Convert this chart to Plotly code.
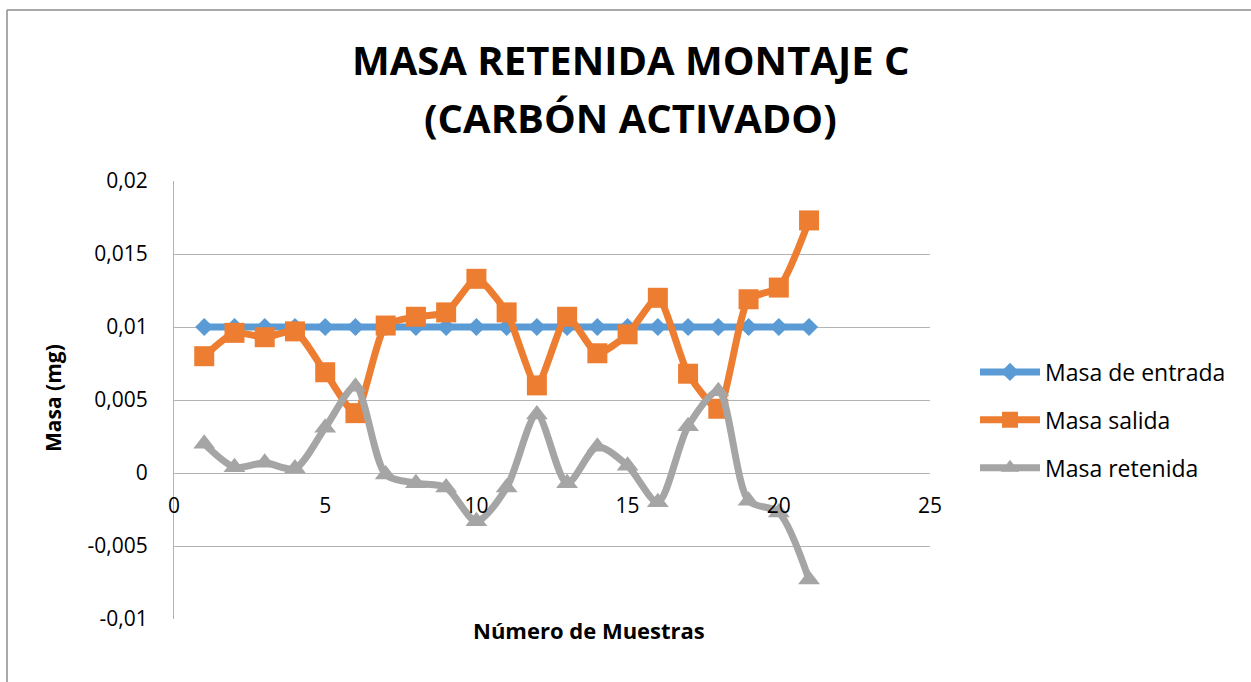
import plotly.graph_objects as go

# Sample numbers
muestras = list(range(1, 22))

# Mass per sample (mg)
masa_entrada = [0.01] * 21
masa_salida = [0.0080, 0.0096, 0.0093, 0.0097, 0.0069, 0.0041, 0.0101, 0.0107,
               0.0110, 0.0133, 0.0110, 0.0060, 0.0107, 0.0082, 0.0095, 0.0120,
               0.0068, 0.0044, 0.0119, 0.0127, 0.0173]
masa_retenida = [0.0020, 0.0004, 0.0007, 0.0003, 0.0031, 0.0059, -0.0001, -0.0007,
                 -0.0010, -0.0033, -0.0010, 0.0040, -0.0007, 0.0018, 0.0005, -0.0020,
                 0.0032, 0.0056, -0.0019, -0.0027, -0.0073]

y_ticks = [0.02, 0.015, 0.01, 0.005, 0, -0.005, -0.01]
y_tick_text = ["0,02", "0,015", "0,01", "0,005", "0", "-0,005", "-0,01"]
x_ticks = [0, 5, 10, 15, 20, 25]

FONT = "Open Sans"
GRID = "#B3B3B3"

# plot area in pixels: left 174, right 930, top 181, bottom 619
L, R, T, B = 174, 930, 181, 619


def px_x(p):
    return (p - L) / (R - L)


def px_y(p):
    return (B - p) / (B - T)


fig = go.Figure()
fig.add_trace(go.Scatter(
    x=muestras, y=masa_entrada, name="Masa de entrada", mode="lines+markers",
    line=dict(color="#5B9BD5", width=7),
    marker=dict(symbol="diamond", size=14, color="#5B9BD5"),
    legendgroup="a"))
fig.add_trace(go.Scatter(
    x=muestras, y=masa_salida, name="Masa salida", mode="lines+markers",
    line=dict(color="#ED7D31", width=7, shape="spline", smoothing=0.6),
    marker=dict(symbol="square", size=20, color="#ED7D31"),
    legendgroup="b"))
fig.add_trace(go.Scatter(
    x=muestras, y=masa_retenida, name="Masa retenida", mode="lines+markers",
    line=dict(color="#A5A5A5", width=7, shape="spline", smoothing=0.8),
    marker=dict(symbol="triangle-up", size=19, color="#A5A5A5"),
    legendgroup="c"))

# x axis crosses the value axis at zero
zero_pos = (0 - (-0.01)) / (0.02 - (-0.01))

fig.update_layout(
    width=1251, height=682,
    margin=dict(l=L, r=1251 - R, t=T, b=682 - B),
    paper_bgcolor="white", plot_bgcolor="white",
    font=dict(family=FONT, color="#000000", size=21),
    showlegend=True,
    legend=dict(x=px_x(975), y=px_y(420), xanchor="left", yanchor="middle",
                font=dict(size=23, family=FONT), tracegroupgap=15,
                itemwidth=60, bgcolor="rgba(0,0,0,0)"),
    xaxis=dict(range=[0, 25], tickvals=x_ticks, showgrid=False, zeroline=False,
               showline=False, ticks="", anchor="free", position=zero_pos,
               ticklabelstandoff=18,
               tickfont=dict(size=21, family=FONT)),
    yaxis=dict(range=[-0.01, 0.02], tickvals=y_ticks, ticktext=y_tick_text,
               showgrid=True, gridcolor=GRID, gridwidth=1, zeroline=False,
               showline=True, linecolor=GRID, linewidth=1, ticks="",
               ticklabelstandoff=21,
               tickfont=dict(size=21, family=FONT)),
)

# Chart title (two lines)
fig.add_annotation(text="<b>MASA RETENIDA MONTAJE C</b>", xref="paper", yref="paper",
                   x=px_x(630), y=px_y(60), xanchor="center", yanchor="middle",
                   showarrow=False, font=dict(size=40, family=FONT))
fig.add_annotation(text="<b>(CARBÓN ACTIVADO)</b>", xref="paper", yref="paper",
                   x=px_x(630), y=px_y(117), xanchor="center", yanchor="middle",
                   showarrow=False, font=dict(size=40, family=FONT))

# Axis titles
fig.add_annotation(text="<b>Número de Muestras</b>", xref="paper", yref="paper",
                   x=px_x(589), y=px_y(630), xanchor="center", yanchor="middle",
                   showarrow=False, font=dict(size=22, family=FONT))
fig.add_annotation(text="<b>Masa (mg)</b>", xref="paper", yref="paper",
                   x=px_x(53), y=px_y(398), xanchor="center", yanchor="middle",
                   textangle=-90, showarrow=False, font=dict(size=21, family=FONT))

# Chart area border
fig.add_shape(type="line", xref="paper", yref="paper",
              x0=px_x(7), x1=px_x(1262), y0=px_y(10), y1=px_y(10),
              line=dict(color="#8C8C8C", width=1.5))
fig.add_shape(type="line", xref="paper", yref="paper",
              x0=px_x(7), x1=px_x(7), y0=px_y(10), y1=px_y(700),
              line=dict(color="#8C8C8C", width=1.5))

fig.write_html("out.html")
